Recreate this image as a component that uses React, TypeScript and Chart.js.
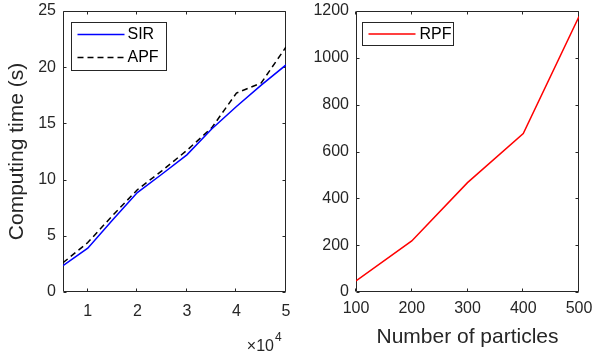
import React, { useEffect, useRef } from "react";
import { Chart, registerables } from "chart.js";

Chart.register(...registerables);

// ---------- data ----------
const particlesLarge = [5000, 10000, 15000, 20000, 25000, 30000, 35000, 40000, 45000, 50000];
const sirTime = [2.35, 3.9, 6.4, 8.85, 10.5, 12.2, 14.5, 16.5, 18.4, 20.2];
const apfTime = [2.6, 4.4, 6.8, 9.1, 10.8, 12.6, 14.6, 17.7, 18.6, 21.8];

const particlesSmall = [100, 200, 300, 400, 500];
const rpfTime = [47, 218, 467, 677, 1176];

const leftXTicks = [10000, 20000, 30000, 40000, 50000];
const leftYTicks = [0, 5, 10, 15, 20, 25];
const rightXTicks = [100, 200, 300, 400, 500];
const rightYTicks = [0, 200, 400, 600, 800, 1000, 1200];

const leftYLabel = "Computing time (s)";
const rightXLabel = "Number of particles";
const leftSeriesNames = ["SIR", "APF"];
const rightSeriesNames = ["RPF"];

// ---------- styles ----------
const FONT = "'Liberation Sans', Arial, Helvetica, sans-serif";
const INK = "#262626";

type LegendSpec = {
  x: number; y: number; w: number; h: number;
  rows: number[]; x0: number; x1: number; tx: number;
};

function makeFramePlugin(xTicks: number[], yTicks: number[], legend: LegendSpec, exponent: boolean) {
  return {
    id: "frameAndLegend",
    beforeDatasetsDraw(chart: any) {
      const { ctx, chartArea } = chart;
      const l = Math.round(chartArea.left) + 0.5;
      const r = Math.round(chartArea.right) - 0.5;
      const t = Math.round(chartArea.top) + 0.5;
      const b = Math.round(chartArea.bottom) - 0.5;
      ctx.save();
      ctx.strokeStyle = INK;
      ctx.lineWidth = 1;
      ctx.beginPath();
      ctx.rect(l, t, r - l, b - t);
      const xs = chart.scales.x;
      const ys = chart.scales.y;
      const tl = 3;
      xTicks.forEach((v) => {
        const px = Math.round(xs.getPixelForValue(v)) - 0.5;
        ctx.moveTo(px, b); ctx.lineTo(px, b - tl);
        ctx.moveTo(px, t); ctx.lineTo(px, t + tl);
      });
      yTicks.forEach((v) => {
        const py = Math.round(ys.getPixelForValue(v)) + 0.5;
        ctx.moveTo(l, py); ctx.lineTo(l + tl, py);
        ctx.moveTo(r, py); ctx.lineTo(r - tl, py);
      });
      ctx.stroke();
      ctx.restore();
    },
    afterDatasetsDraw(chart: any) {
      const { ctx, chartArea } = chart;
      ctx.save();
      const bx = Math.round(chartArea.left + legend.x) + 0.5;
      const by = Math.round(chartArea.top + legend.y) + 0.5;
      ctx.fillStyle = "#ffffff";
      ctx.fillRect(bx, by, legend.w, legend.h);
      ctx.strokeStyle = INK;
      ctx.lineWidth = 1;
      ctx.strokeRect(bx, by, legend.w, legend.h);
      chart.data.datasets.forEach((ds: any, i: number) => {
        const yy = by + legend.rows[i];
        ctx.strokeStyle = ds.borderColor;
        ctx.lineWidth = ds.borderWidth;
        ctx.setLineDash(ds.borderDash || []);
        ctx.beginPath();
        ctx.moveTo(bx + legend.x0, yy);
        ctx.lineTo(bx + legend.x1, yy);
        ctx.stroke();
        ctx.setLineDash([]);
        ctx.fillStyle = "#000000";
        ctx.font = `16px ${FONT}`;
        ctx.textAlign = "left";
        ctx.textBaseline = "middle";
        ctx.fillText(ds.label, bx + legend.tx, yy + 0.5);
      });
      if (exponent) {
        ctx.fillStyle = INK;
        ctx.font = `16px ${FONT}`;
        ctx.textAlign = "right";
        ctx.textBaseline = "alphabetic";
        const xr = chartArea.right - 12;
        ctx.fillText("\u00d710", xr, 351);
        ctx.font = `12px ${FONT}`;
        ctx.textAlign = "left";
        ctx.fillText("4", xr + 1, 341);
      }
      ctx.restore();
    },
  };
}

const zeroPadX = (h: number) => (s: any) => {
  s.height = h;
  s.paddingLeft = 0;
  s.paddingRight = 0;
};
const zeroPadY = (w: number) => (s: any) => {
  s.width = w;
  s.paddingTop = 0;
  s.paddingBottom = 0;
};

function leftConfig(): any {
  return {
    type: "line",
    data: {
      datasets: [
        {
          label: leftSeriesNames[0],
          data: particlesLarge.map((x, i) => ({ x, y: sirTime[i] })),
          borderColor: "#0000ff",
          borderWidth: 1.5,
          pointRadius: 0,
          tension: 0,
        },
        {
          label: leftSeriesNames[1],
          data: particlesLarge.map((x, i) => ({ x, y: apfTime[i] })),
          borderColor: "#000000",
          borderWidth: 1.5,
          borderDash: [6, 4],
          pointRadius: 0,
          tension: 0,
        },
      ],
    },
    options: {
      animation: false,
      responsive: false,
      devicePixelRatio: 1,
      layout: { padding: { left: 0, right: 10, top: 11, bottom: 0 } },
      plugins: { legend: { display: false }, tooltip: { enabled: false } },
      scales: {
        x: {
          type: "linear",
          min: 5000,
          max: 50000,
          afterBuildTicks: (s: any) => { s.ticks = leftXTicks.map((v) => ({ value: v })); },
          afterFit: zeroPadX(66),
          grid: { display: false, drawTicks: false },
          border: { display: false },
          ticks: {
            autoSkip: false, maxRotation: 0, padding: 10, color: INK,
            font: { family: FONT, size: 16 },
            callback: (v: any) => String(v / 10000),
          },
        },
        y: {
          type: "linear",
          min: 0,
          max: 25,
          afterBuildTicks: (s: any) => { s.ticks = leftYTicks.map((v) => ({ value: v })); },
          afterFit: zeroPadY(63),
          grid: { display: false, drawTicks: false },
          border: { display: false },
          ticks: {
            autoSkip: false, padding: 7, color: INK, font: { family: FONT, size: 16 },
            callback: (v: any) => String(v),
          },
          title: {
            display: true, text: leftYLabel, color: INK,
            font: { family: FONT, size: 21 }, padding: { top: 5, bottom: 0 },
          },
        },
      },
    },
    plugins: [makeFramePlugin(leftXTicks, leftYTicks,
      { x: 8, y: 11, w: 95, h: 48, rows: [12, 35], x0: 6, x1: 53, tx: 56 }, true)],
  };
}

function rightConfig(): any {
  return {
    type: "line",
    data: {
      datasets: [
        {
          label: rightSeriesNames[0],
          data: particlesSmall.map((x, i) => ({ x, y: rpfTime[i] })),
          borderColor: "#ff0000",
          borderWidth: 1.5,
          pointRadius: 0,
          tension: 0,
        },
      ],
    },
    options: {
      animation: false,
      responsive: false,
      devicePixelRatio: 1,
      layout: { padding: { left: 0, right: 13, top: 11, bottom: 0 } },
      plugins: { legend: { display: false }, tooltip: { enabled: false } },
      scales: {
        x: {
          type: "linear",
          min: 100,
          max: 500,
          afterBuildTicks: (s: any) => { s.ticks = rightXTicks.map((v) => ({ value: v })); },
          afterFit: zeroPadX(66),
          grid: { display: false, drawTicks: false },
          border: { display: false },
          ticks: {
            autoSkip: false, maxRotation: 0, padding: 7, color: INK, font: { family: FONT, size: 16 },
            callback: (v: any) => String(v),
          },
          title: {
            display: true, text: rightXLabel, color: INK,
            font: { family: FONT, size: 21 }, padding: { top: 0, bottom: 8.5 },
          },
        },
        y: {
          type: "linear",
          min: 0,
          max: 1200,
          afterBuildTicks: (s: any) => { s.ticks = rightYTicks.map((v) => ({ value: v })); },
          afterFit: zeroPadY(60),
          grid: { display: false, drawTicks: false },
          border: { display: false },
          ticks: {
            autoSkip: false, padding: 7, color: INK, font: { family: FONT, size: 16 },
            callback: (v: any) => String(v),
          },
        },
      },
    },
    plugins: [makeFramePlugin(rightXTicks, rightYTicks,
      { x: 6, y: 11, w: 91, h: 23, rows: [11.5], x0: 6, x1: 53, tx: 57 }, false)],
  };
}

function ChartCanvas({ make, left, width }: { make: () => any; left: number; width: number }) {
  const ref = useRef<HTMLCanvasElement | null>(null);
  useEffect(() => {
    if (!ref.current) return;
    const chart = new Chart(ref.current, make());
    return () => chart.destroy();
  }, []);
  return (
    <canvas
      ref={ref}
      width={width}
      height={358}
      style={{ position: "absolute", left, top: 0, width, height: 358, display: "block" }}
    />
  );
}

export default function App() {
  return (
    <div style={{ position: "fixed", left: 0, top: 0, width: 592, height: 358, background: "#ffffff", overflow: "hidden" }}>
      <ChartCanvas make={leftConfig} left={0} width={296} />
      <ChartCanvas make={rightConfig} left={296} width={296} />
    </div>
  );
}
